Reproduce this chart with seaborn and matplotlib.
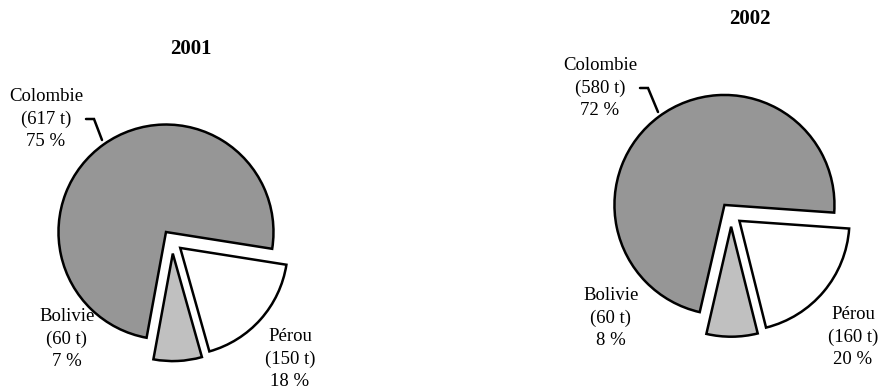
import matplotlib
matplotlib.use("Agg")
import matplotlib.pyplot as plt
import seaborn as sns

# Production de coca par pays (tonnes) et parts en %
years = ["2001", "2002"]
countries = ["Colombie", "Pérou", "Bolivie"]
tonnes_2001 = [617, 150, 60]
tonnes_2002 = [580, 160, 60]
percent_2001 = [75, 18, 7]
percent_2002 = [72, 20, 8]

sns.set_theme(style="white")
plt.rcParams["font.family"] = ["Liberation Serif", "DejaVu Serif"]

colors = ["#969696", "#ffffff", "#c0c0c0"]

W, H = 880, 392
fig = plt.figure(figsize=(W / 100, H / 100), dpi=100)
ax = fig.add_axes([0, 0, 1, 1])

# layout in pixel units (y measured from the top)
layout = {
    "2001": dict(center=(172.2, 240.8), radius=107.5, start=259.6,
                 explode=[10.75, 10.75, 12.8], title=(191, 49),
                 labels=[(46, 119), (290, 359), (67, 339)],
                 leader=[(86, 119), (94, 119), (102, 140)]),
    "2002": dict(center=(731.0, 213.8), radius=110.0, start=257.0,
                 explode=[11.0, 11.0, 12.9], title=(750, 19),
                 labels=[(600, 88), (853, 337), (611, 318)],
                 leader=[(640, 88), (648, 88), (658, 112)]),
}

data = {"2001": (tonnes_2001, percent_2001), "2002": (tonnes_2002, percent_2002)}

for year in years:
    tonnes, pct = data[year]
    lay = layout[year]
    cx, cy = lay["center"]
    ax.pie(tonnes, colors=colors, explode=lay["explode"],
           startangle=lay["start"], counterclock=False,
           center=(cx, H - cy), radius=lay["radius"],
           wedgeprops=dict(edgecolor="black", linewidth=1.8,
                           joinstyle="miter"))
    tx, ty = lay["title"]
    ax.text(tx, H - ty, year, ha="center", va="center",
            fontsize=15, fontweight="bold", color="black", zorder=5)
    for name, t, p, (lx, ly) in zip(countries, tonnes, pct, lay["labels"]):
        ax.text(lx, H - ly, f"{name}\n({t} t)\n{p} %", ha="center",
                va="center", multialignment="center", fontsize=13.5,
                linespacing=1.42, color="black", zorder=5)
    xs = [p[0] for p in lay["leader"]]
    ys = [H - p[1] for p in lay["leader"]]
    ax.plot(xs, ys, color="black", linewidth=1.8, solid_joinstyle="miter",
            zorder=4)

ax.set_xlim(0, W)
ax.set_ylim(0, H)
ax.set_aspect("auto")
ax.axis("off")

fig.savefig("out.png", dpi=100, facecolor="white")
